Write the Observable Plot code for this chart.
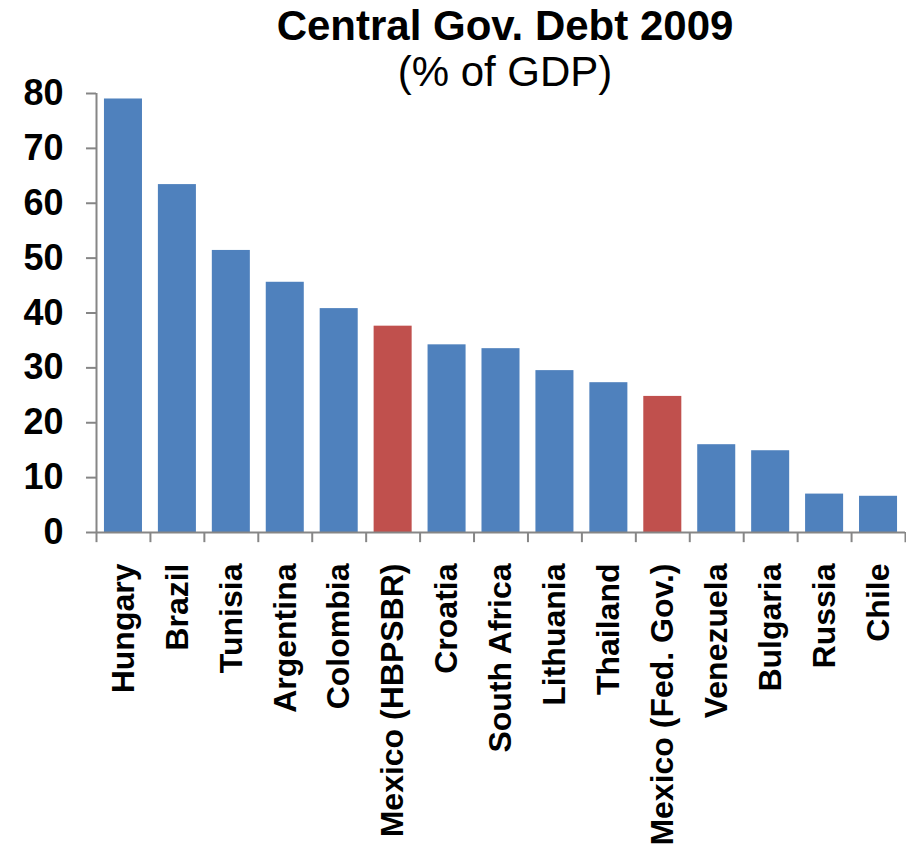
<!DOCTYPE html>
<html>
<head>
<meta charset="utf-8">
<script src="https://cdn.jsdelivr.net/npm/d3@7"></script>
<script src="https://cdn.jsdelivr.net/npm/@observablehq/plot@0.6"></script>
<style>
  html, body { margin: 0; padding: 0; background: #fff; }
  #wrap { position: relative; width: 906px; height: 846px; font-family: "Liberation Sans", Arial, sans-serif; }
  .t { position: absolute; left: 0; width: 1010px; text-align: center; color: #000; font-size: 42px; line-height: 42px; white-space: nowrap; }
  #title { top: 5px; font-weight: bold; }
  #subtitle { top: 51px; }
  #chart { position: absolute; left: 0; top: 0; }
</style>
</head>
<body>
<div id="wrap">
  <div id="chart"></div>
  <div class="t" id="title">Central Gov. Debt 2009</div>
  <div class="t" id="subtitle">(% of GDP)</div>
</div>
<script>
const countries = ["Hungary", "Brazil", "Tunisia", "Argentina", "Colombia", "Mexico (HBPSBR)", "Croatia", "South Africa", "Lithuania", "Thailand", "Mexico (Fed. Gov.)", "Venezuela", "Bulgaria", "Russia", "Chile"];
const debt = [79.0, 63.4, 51.4, 45.6, 40.8, 37.6, 34.2, 33.5, 29.5, 27.3, 24.8, 16.0, 14.9, 7.0, 6.6];
const highlighted = ["Mexico (HBPSBR)", "Mexico (Fed. Gov.)"];
const yTicks = [0, 10, 20, 30, 40, 50, 60, 70, 80];

const data = countries.map((c, i) => ({country: c, value: debt[i], hl: highlighted.includes(c)}));

const W = 906, H = 846, mL = 96, mR = 1, mT = 93, mB = 314;
const step = (W - mL - mR) / countries.length;
const gray = "#868686";

const chart = Plot.plot({
  width: W,
  height: H,
  marginLeft: mL,
  marginRight: mR,
  marginTop: mT,
  marginBottom: mB,
  style: {fontFamily: "'Liberation Sans', Arial, sans-serif", background: "transparent", color: "#000", overflow: "visible"},
  x: {domain: countries, paddingInner: 0.295, paddingOuter: 0.1475, round: false, label: null},
  y: {domain: [0, 80], label: null},
  marks: [
    Plot.barY(data, {x: "country", y: "value", fill: d => d.hl ? "#C0504D" : "#4F81BD"}),
    Plot.axisY({ticks: yTicks, tickSize: 10, tickPadding: 23, stroke: gray, strokeWidth: 2, fontSize: 36, fontWeight: "bold", fill: "#000", label: null}),
    Plot.axisX({tickSize: 0, tickPadding: 31, tickRotate: -90, fontSize: 32, fontWeight: "bold", fill: "#000", label: null}),
    Plot.ruleX([countries[0]], {x: d => d, y1: 0, y2: 80, dx: -step / 2, stroke: gray, strokeWidth: 2}),
    Plot.ruleY([0], {stroke: gray, strokeWidth: 2}),
    Plot.ruleX(countries, {x: d => d, y1: 0, y2: -1.85, dx: -step / 2, stroke: gray, strokeWidth: 2}),
    Plot.ruleX([countries[countries.length - 1]], {x: d => d, y1: 0, y2: -1.85, dx: step / 2, stroke: gray, strokeWidth: 2})
  ]
});
document.getElementById("chart").appendChild(chart);
</script>
</body>
</html>
